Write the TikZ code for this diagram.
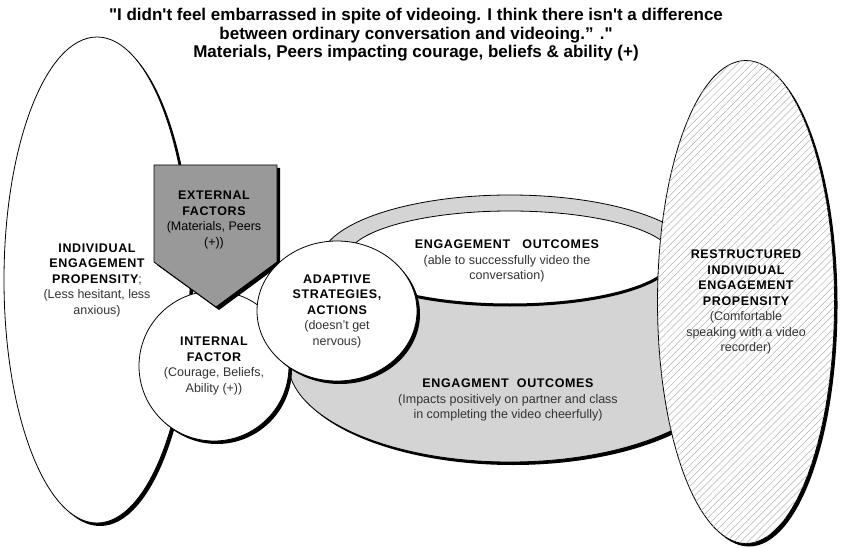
\documentclass[tikz,border=0pt]{standalone}
\usepackage{fontspec}
\setmainfont{Liberation Sans}
\newfontfamily\titlefont{Liberation Sans}[Ligatures=TeXOff]
\usetikzlibrary{shapes.geometric,shadows,patterns.meta}
\newcommand{\hd}[1]{{\bfseries\addfontfeatures{LetterSpace=5}\color{black}#1}}
\tikzset{x=1pt, y=1pt, % one unit is one pixel of the reference
        every node/.style={ % Sets the text of every node
            font=\fontsize{12.5}{15.5}\selectfont,
            text=black!80,
            align=center},
        shadowed/.style={ % Black offset shadow on the lower right
            drop shadow={shadow xshift=3pt, shadow yshift=-3pt, opacity=1, fill=black}},
        blob/.style={ % Sets the properties for each ellipse
            ellipse, draw, thick, fill=white, inner sep=0pt, shadowed},
        hatched/.style={
            postaction={pattern={Lines[angle=45, distance=5pt, line width=.5pt]}, pattern color=black!30}},
        bowl/.style={draw, thick, fill=black!17}
        }

\begin{document}
\begin{tikzpicture}
    \useasboundingbox (0,0) rectangle (845,547);

    \node[font=\titlefont\bfseries\fontsize{17}{18.5}\selectfont, text=black] (quote) at (416,512)
        {"I didn't feel embarrassed in spite of videoing. I think there isn't a difference\\
         between ordinary conversation and videoing.” ."\\
         Materials, Peers impacting courage, beliefs \& ability (+)};

    \node[blob, minimum width=186pt, minimum height=486pt] (iep) at (97,267)
        {\hd{INDIVIDUAL}\\ \hd{ENGAGEMENT}\\ \hd{PROPENSITY};\\ (Less hesitant, less\\ anxious)};

    % the outcome bowl
    \filldraw[bowl, shadowed] (320,285) -- (288,185)
        arc[start angle=180, end angle=360, x radius=222pt, y radius=100pt] -- (700,285)
        arc[start angle=0, end angle=180, x radius=190pt, y radius=67pt] -- cycle;
    \draw[thick, fill=white] (510,289) ellipse[x radius=163pt, y radius=47pt];
    \draw[line width=3pt] (347,289) arc[start angle=180, end angle=360, x radius=163pt, y radius=47pt];
    \node (outtop) at (507,286)
        {\hd{ENGAGEMENT~~~OUTCOMES}\\ (able to successfully video the\\ conversation)};
    \node (outbot) at (508,147)
        {\hd{ENGAGMENT~~OUTCOMES}\\ (Impacts positively on partner and class\\ in completing the video cheerfully)};

    \node[blob, hatched, minimum width=177pt, minimum height=483pt] (riep) at (746,245)
        {\hd{RESTRUCTURED}\\ \hd{INDIVIDUAL}\\ \hd{ENGAGEMENT}\\ \hd{PROPENSITY}\\
         (Comfortable\\ speaking with a video\\ recorder)};

    \node[blob, minimum size=150pt] (intf) at (214,181)
        {\hd{INTERNAL}\\ \hd{FACTOR}\\ (Courage, Beliefs,\\ Ability (+))};

    % external factors arrow
    \filldraw[fill=black!40, thick, shadowed] (154,382) -- (277,382) -- (277,285) -- (216,240) -- (154,285) -- cycle;
    \node[text=black] (extf) at (214,327)
        {\hd{EXTERNAL}\\ \hd{FACTORS}\\ (Materials, Peers\\ (+))};

    \node[blob, minimum width=160pt, minimum height=140pt] (adapt) at (337,236)
        {\hd{ADAPTIVE}\\ \hd{STRATEGIES,}\\ \hd{ACTIONS}\\ (doesn't get\\ nervous)};
\end{tikzpicture}
\end{document}
